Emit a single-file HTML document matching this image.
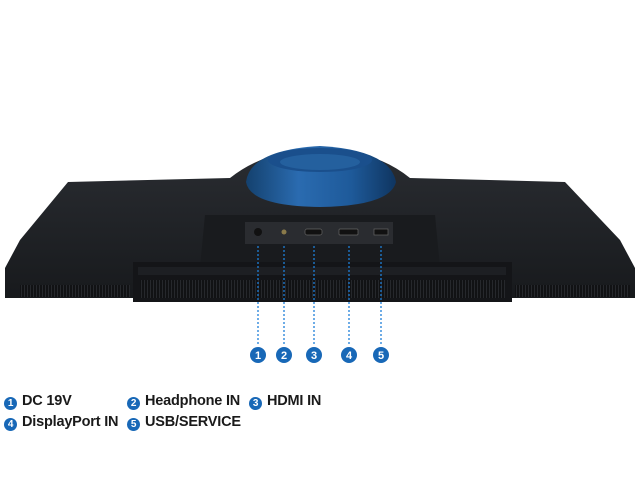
<!DOCTYPE html>
<html><head><style>
html,body{margin:0;padding:0;background:#fff;width:640px;height:480px;overflow:hidden}
.l{position:absolute;font-family:"Liberation Sans",sans-serif;font-size:14.5px;color:#1a1a1a;font-weight:bold;letter-spacing:-0.2px}
.c{display:inline-block;width:13px;height:13px;border-radius:50%;background:#1868b7;color:#fff;font-size:10px;text-align:center;line-height:13px;vertical-align:-1px;margin-right:5px;font-weight:bold}
</style></head><body>
<svg width="640" height="480" style="position:absolute;left:0;top:0">
<defs>
<linearGradient id="b" x1="0" y1="0" x2="0" y2="1"><stop offset="0" stop-color="#2a2d32"/><stop offset="1" stop-color="#17191c"/></linearGradient>
<linearGradient id="r" x1="0" y1="0" x2="1" y2="0"><stop offset="0" stop-color="#14416e"/><stop offset="0.35" stop-color="#2a6bb0"/><stop offset="0.7" stop-color="#1e5a9a"/><stop offset="1" stop-color="#0f3560"/></linearGradient>
<pattern id="v" width="3" height="10" patternUnits="userSpaceOnUse"><rect width="3" height="10" fill="#111214"/><rect width="1" height="10" fill="#26282c"/></pattern>
</defs>
<path d="M68 182 L230 178 Q265 150 320 148 Q375 150 410 178 L565 182 L620 240 L635 268 L635 298 L512 298 L512 302 L133 302 L133 298 L5 298 L5 268 L20 240 Z" fill="url(#b)"/>
<rect x="20" y="285" width="110" height="12" fill="url(#v)"/>
<rect x="515" y="285" width="115" height="12" fill="url(#v)"/>
<path d="M205 215 L435 215 L440 268 L200 268 Z" fill="#191b1e"/>
<rect x="133" y="262" width="379" height="40" fill="#141518"/>
<rect x="138" y="267" width="368" height="8" fill="#1d1f23"/>
<rect x="140" y="280" width="365" height="18" fill="url(#v)"/>
<path d="M246 182 Q250 150 320 146 Q390 150 396 182 Q390 206 320 207 Q250 206 246 182Z" fill="url(#r)"/>
<ellipse cx="320" cy="160" rx="52" ry="12" fill="#1a4f8c"/>
<ellipse cx="320" cy="162" rx="40" ry="8" fill="#24609e"/>
<rect x="245" y="222" width="148" height="22" fill="#2a2c30"/>
<circle cx="258" cy="232" r="4" fill="#111"/>
<circle cx="284" cy="232" r="2.5" fill="#8a7a4a"/>
<rect x="305" y="229" width="17" height="6" rx="2" fill="#111" stroke="#666" stroke-width="0.7"/>
<rect x="339" y="229" width="19" height="6" rx="1" fill="#111" stroke="#666" stroke-width="0.7"/>
<rect x="374" y="229" width="14" height="6" fill="#111" stroke="#666" stroke-width="0.7"/>
<g stroke="#1f7fd8" stroke-width="1.3" stroke-dasharray="2,2">
<line x1="258" y1="246" x2="258" y2="345"/><line x1="284" y1="246" x2="284" y2="345"/><line x1="314" y1="246" x2="314" y2="345"/><line x1="349" y1="246" x2="349" y2="345"/><line x1="381" y1="246" x2="381" y2="345"/>
</g>
<g fill="#1868b7"><circle cx="258" cy="355" r="8"/><circle cx="284" cy="355" r="8"/><circle cx="314" cy="355" r="8"/><circle cx="349" cy="355" r="8"/><circle cx="381" cy="355" r="8"/></g>
<g fill="#fff" font-family="Liberation Sans,sans-serif" font-size="11" font-weight="bold" text-anchor="middle">
<text x="258" y="359">1</text><text x="284" y="359">2</text><text x="314" y="359">3</text><text x="349" y="359">4</text><text x="381" y="359">5</text></g>
</svg>
<div class="l" style="left:4px;top:393px"><span class="c">1</span>DC 19V</div>
<div class="l" style="left:127px;top:393px"><span class="c">2</span>Headphone IN</div>
<div class="l" style="left:249px;top:393px"><span class="c">3</span>HDMI IN</div>
<div class="l" style="left:4px;top:414px"><span class="c">4</span>DisplayPort IN</div>
<div class="l" style="left:127px;top:414px"><span class="c">5</span>USB/SERVICE</div>
</body></html>
